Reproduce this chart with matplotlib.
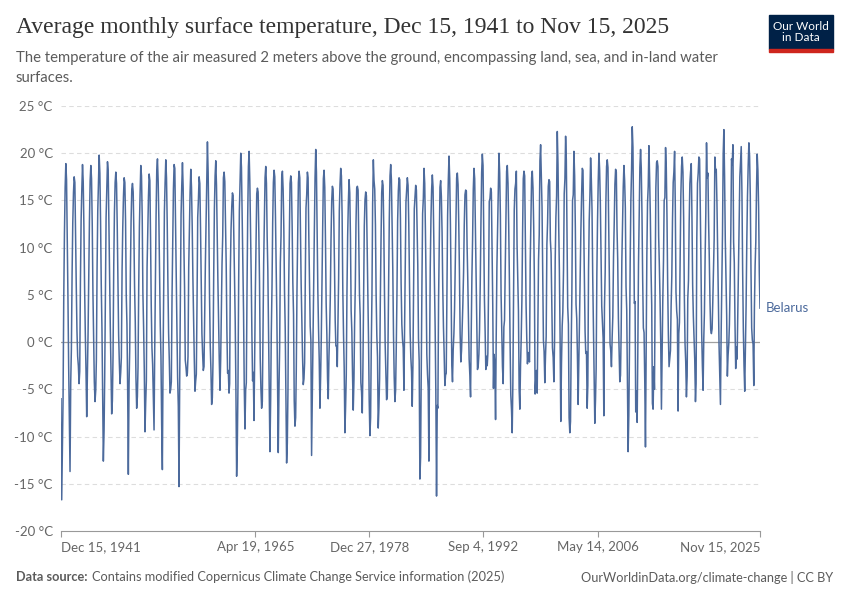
import numpy as np
import pandas as pd
import matplotlib
matplotlib.use("Agg")
import matplotlib.pyplot as plt
from matplotlib.patches import Rectangle

# Monthly average temperature (°C) for Belarus.
# Series starts Dec 1941, one row per calendar year afterwards.
temps_1940s = [
    -6.0,
    -16.7, -11.2, -6.0, 4.8, 11.5, 16.4, 18.9, 17.2, 11.0, 4.9, -2.4, -8.3,   # 1942
    -13.7, -4.2, -0.8, 7.2, 12.6, 15.8, 17.5, 16.9, 11.2, 6.0, 1.2, -1.5,     # 1943
    -2.5, -4.4, -3.1, 6.5, 12.9, 16.2, 18.8, 17.0, 12.1, 5.8, 0.9, -3.0,      # 1944
    -7.9, -3.6, 0.8, 6.9, 12.8, 17.1, 18.7, 17.3, 12.4, 5.3, 0.3, -4.2,       # 1945
    -6.3, -5.1, -1.9, 7.8, 13.9, 16.8, 19.8, 17.9, 12.8, 6.1, 1.4, -5.3,      # 1946
    -12.6, -9.4, -3.7, 5.4, 13.2, 16.4, 19.1, 18.2, 12.6, 6.9, 1.7, -2.8,     # 1947
    -7.6, -6.2, -1.4, 8.1, 13.7, 16.9, 18.0, 16.8, 12.3, 6.4, 0.8, -2.1,      # 1948
    -4.4, -3.2, -1.6, 7.6, 12.1, 15.4, 17.4, 16.9, 12.8, 5.0, 1.9, -4.8,      # 1949
]
temps_1950s = [
    -14.0, -4.5, -0.9, 7.4, 12.8, 16.2, 16.8, 15.9, 11.5, 5.9, 2.1, -3.8,     # 1950
    -7.0, -5.8, -2.7, 5.9, 12.2, 15.8, 18.7, 17.6, 13.3, 5.2, 1.6, -2.9,      # 1951
    -9.5, -6.4, -4.1, 7.9, 11.6, 15.4, 17.8, 17.1, 11.0, 3.9, -0.6, -2.4,     # 1952
    -5.8, -9.3, -1.2, 6.0, 13.4, 18.3, 19.4, 17.0, 12.9, 7.2, 1.8, -1.5,      # 1953
    -8.7, -13.5, -2.6, 6.3, 13.8, 16.9, 19.3, 17.4, 12.7, 6.4, 1.0, -1.8,     # 1954
    -5.4, -5.0, -4.2, 4.9, 10.9, 16.2, 18.8, 18.4, 12.4, 6.3, 1.5, -3.7,      # 1955
    -6.8, -15.3, -4.4, 4.3, 13.5, 16.6, 19.0, 16.3, 10.2, 5.8, -1.9, -2.6,    # 1956
    -3.6, -3.3, -1.5, 7.9, 11.8, 15.9, 18.3, 16.4, 12.3, 6.9, 2.3, -1.7,      # 1957
    -5.2, -4.1, -3.4, 4.4, 13.2, 15.1, 17.5, 16.8, 12.1, 6.4, 0.9, -1.2,      # 1958
    -3.0, -2.6, 2.8, 8.2, 12.3, 16.4, 21.2, 18.0, 12.4, 4.9, -0.3, -2.9,      # 1959
]
temps_1960s = [
    -6.6, -5.9, -2.1, 7.1, 14.1, 17.6, 19.2, 16.6, 11.4, 6.6, 2.4, -1.9,      # 1960
    -5.1, -1.8, 2.7, 8.3, 11.2, 17.4, 18.0, 17.0, 12.3, 8.2, 1.2, -3.3,       # 1961
    -3.0, -5.4, -4.4, 7.6, 11.9, 14.3, 15.8, 15.5, 11.4, 6.8, 2.0, -5.0,      # 1962
    -14.2, -10.8, -4.6, 6.5, 13.9, 17.2, 20.0, 18.5, 13.3, 8.9, 3.1, -4.6,    # 1963
    -9.2, -5.1, -4.3, 5.6, 13.3, 18.6, 20.2, 17.1, 12.0, 7.2, 0.8, -4.1,      # 1964
    -3.2, -8.3, -1.5, 5.3, 10.5, 15.7, 16.3, 15.9, 11.6, 6.4, -1.7, -4.9,     # 1965
    -7.0, -6.3, 0.4, 8.4, 13.0, 17.4, 18.6, 16.8, 11.2, 7.6, 1.2, -4.0,       # 1966
    -11.6, -6.1, 0.9, 5.8, 12.6, 16.9, 18.2, 17.5, 13.2, 8.0, 2.6, -4.4,      # 1967
    -11.7, -5.0, -0.6, 8.4, 11.2, 17.5, 18.1, 16.2, 12.0, 5.5, 1.4, -5.3,     # 1968
    -12.8, -10.7, -5.2, 5.9, 11.0, 16.8, 17.6, 16.9, 12.2, 6.3, 2.9, -6.2,    # 1969
]
temps_1970s = [
    -8.9, -8.0, -3.0, 5.5, 11.3, 16.9, 18.1, 17.4, 11.2, 6.1, 2.3, -1.6,      # 1970
    -4.5, -3.9, -2.2, 6.9, 14.2, 15.6, 18.0, 17.4, 11.3, 6.6, 1.7, 0.2,       # 1971
    -12.0, -5.7, 0.6, 7.2, 11.7, 17.4, 20.4, 18.0, 11.5, 5.5, 1.4, -1.8,      # 1972
    -7.0, -3.6, 0.4, 6.5, 12.0, 17.3, 18.2, 16.4, 10.8, 4.1, 0.8, -3.9,       # 1973
    -6.0, -1.5, 1.1, 4.8, 10.7, 14.9, 16.5, 16.2, 13.0, 8.2, 2.3, -0.4,       # 1974
    -0.4, -2.6, 2.0, 6.7, 13.9, 16.7, 18.4, 17.6, 13.4, 5.6, 0.9, -2.7,       # 1975
    -9.6, -6.8, -3.5, 5.4, 11.3, 14.8, 17.2, 15.8, 11.0, 3.3, 1.1, -3.5,      # 1976
    -7.2, -4.0, 1.8, 5.9, 12.5, 16.3, 16.5, 16.1, 10.1, 5.1, 2.8, -4.3,       # 1977
    -5.3, -7.5, -2.7, 5.2, 12.3, 15.1, 15.9, 15.5, 10.4, 5.7, 0.4, -6.1,      # 1978
    -9.9, -8.0, -0.8, 5.0, 14.6, 19.3, 17.1, 16.2, 12.4, 5.0, 0.7, -1.6,      # 1979
]
temps_1980s = [
    -9.1, -6.9, -3.9, 4.1, 10.4, 15.8, 17.1, 16.6, 12.0, 5.4, -0.3, -3.1,     # 1980
    -6.1, -5.8, -1.2, 6.0, 13.1, 17.6, 18.8, 17.2, 12.4, 7.7, 0.8, -3.6,      # 1981
    -6.3, -5.1, -0.8, 5.0, 12.8, 16.0, 17.4, 17.2, 13.1, 6.2, 1.9, 0.3,       # 1982
    -0.6, -5.1, 1.7, 8.2, 14.8, 16.2, 17.4, 16.6, 12.6, 6.5, 1.0, -1.6,       # 1983
    -3.1, -6.8, -2.5, 5.5, 14.1, 15.4, 16.6, 16.1, 11.7, 8.1, 0.4, -2.0,      # 1984
    -14.5, -12.2, -3.0, 6.2, 13.6, 15.2, 18.4, 16.8, 11.8, 6.1, -1.3, -3.4,   # 1985
    -4.9, -12.6, -1.5, 7.9, 13.0, 16.2, 17.7, 16.4, 11.0, 6.4, 1.6, -5.2,     # 1986
    -16.3, -6.7, -7.0, 4.6, 10.2, 16.4, 17.1, 15.4, 11.6, 5.8, 1.6, -1.2,     # 1987
    -4.6, -3.5, -3.3, 5.2, 13.4, 17.2, 19.7, 17.3, 12.5, 5.8, -2.5, -4.2,     # 1988
    -0.8, 0.9, 3.5, 8.4, 12.9, 17.4, 17.9, 16.7, 12.6, 7.6, 0.9, -2.1,        # 1989
]
temps_1990s = [
    -0.9, 1.6, 4.1, 7.4, 12.4, 15.6, 16.1, 16.0, 10.3, 6.8, 2.3, -1.8,        # 1990
    -3.5, -5.8, 0.8, 6.9, 10.9, 16.2, 18.4, 17.3, 12.1, 7.2, 2.3, -2.9,       # 1991
    -2.6, -1.3, 1.3, 6.2, 12.5, 17.9, 19.9, 18.7, 11.9, 4.6, 1.1, -2.9,       # 1992
    -1.5, -2.5, -1.2, 6.0, 14.9, 15.2, 16.3, 15.9, 10.1, 4.0, -4.9, -1.3,     # 1993
    -2.4, -8.2, 0.3, 7.9, 11.8, 15.4, 20.0, 17.9, 13.4, 5.1, 0.9, -2.6,       # 1994
    -4.4, 1.6, 2.3, 7.4, 13.1, 18.1, 18.7, 16.8, 12.2, 6.7, -0.1, -5.6,       # 1995
    -7.1, -9.6, -4.4, 5.6, 14.0, 16.2, 16.8, 18.1, 10.3, 6.8, 3.3, -5.0,      # 1996
    -7.1, -2.4, 0.3, 4.4, 11.5, 17.3, 18.1, 17.6, 10.7, 4.0, 0.4, -2.3,       # 1997
    -1.1, -1.8, -2.1, 8.4, 12.9, 17.4, 18.1, 16.3, 12.2, 6.5, -5.5, -4.0,     # 1998
    -3.0, -5.4, 1.5, 8.7, 11.4, 19.2, 20.9, 17.6, 14.3, 6.8, 0.2, -1.0,       # 1999
]
temps_2000s = [
    -4.3, -1.4, 0.6, 10.3, 12.6, 16.5, 17.2, 17.0, 10.8, 9.4, 4.1, -0.6,      # 2000
    -1.6, -4.2, -0.3, 8.8, 13.2, 15.5, 22.3, 18.8, 12.3, 7.6, 0.6, -8.4,      # 2001
    -2.3, 1.7, 3.2, 7.7, 15.7, 17.3, 21.8, 19.3, 11.8, 3.7, 1.9, -8.0,        # 2002
    -9.6, -8.4, -0.9, 5.1, 15.0, 15.6, 20.2, 17.6, 12.1, 4.0, 2.5, -1.4,      # 2003
    -6.6, -2.3, 2.3, 7.2, 11.8, 15.5, 18.4, 18.2, 12.4, 7.3, 1.1, -1.2,       # 2004
    -1.0, -7.0, -4.6, 7.6, 12.9, 15.5, 19.5, 17.3, 14.0, 7.1, 1.6, -2.9,      # 2005
    -8.6, -6.1, -2.8, 7.2, 12.9, 17.1, 20.0, 18.2, 14.7, 9.0, 3.8, 2.2,       # 2006
    0.4, -7.8, 3.7, 7.4, 14.7, 18.6, 19.3, 18.5, 12.6, 6.9, -0.2, -0.9,       # 2007
    -2.6, 0.5, 2.7, 9.0, 12.5, 16.7, 18.3, 18.0, 12.0, 8.8, 2.5, -0.9,        # 2008
    -4.2, -3.5, 0.9, 8.6, 12.7, 16.4, 18.7, 17.1, 14.2, 5.9, 3.4, -3.8,       # 2009
]
temps_2010s = [
    -11.6, -7.7, -0.9, 8.4, 14.9, 18.2, 22.8, 20.6, 11.6, 4.1, 4.3, -7.4,     # 2010
    -5.2, -8.5, -1.3, 8.2, 13.6, 18.5, 20.4, 18.4, 13.5, 6.7, 1.5, 1.0,       # 2011
    -4.1, -11.1, -0.8, 9.1, 14.7, 16.5, 20.8, 17.4, 13.4, 7.8, 3.9, -6.5,     # 2012
    -7.1, -2.6, -5.0, 6.6, 16.3, 19.0, 19.2, 18.6, 11.2, 8.2, 4.5, 0.1,       # 2013
    -7.1, -0.7, 4.4, 8.6, 15.0, 15.3, 20.6, 18.5, 13.3, 6.2, 0.8, -2.6,       # 2014
    -1.8, -0.9, 3.8, 7.0, 12.9, 16.9, 18.0, 20.2, 14.3, 5.3, 3.3, 2.4,        # 2015
    -7.3, 0.9, 2.1, 9.0, 15.5, 18.6, 19.6, 18.0, 13.1, 5.0, -0.2, -2.1,       # 2016
    -5.8, -3.6, 4.6, 6.5, 12.6, 16.8, 18.0, 18.9, 13.1, 6.0, 2.7, 0.6,        # 2017
    -1.9, -6.3, -4.4, 11.0, 16.8, 17.9, 19.6, 19.4, 14.2, 8.3, 1.0, -2.5,     # 2018
    -5.1, 0.4, 3.1, 9.1, 13.6, 21.1, 17.4, 17.9, 12.6, 8.9, 4.2, 1.3,         # 2019
]
temps_2020s = [
    0.9, 1.4, 4.2, 7.7, 10.9, 19.6, 18.0, 18.3, 14.6, 9.6, 4.3, -0.3,         # 2020
    -3.6, -6.6, 0.5, 6.0, 11.4, 19.9, 22.5, 17.5, 10.8, 6.9, 2.8, -3.6,       # 2021
    -1.4, -0.2, 1.9, 6.2, 11.6, 19.4, 18.8, 20.9, 10.6, 8.4, 1.9, -2.8,       # 2022
    -0.5, -1.8, 2.8, 7.4, 13.2, 17.5, 19.0, 20.7, 15.8, 7.8, 1.4, -2.5,       # 2023
    -5.2, -0.6, 3.8, 10.6, 15.4, 18.7, 21.1, 19.7, 15.5, 7.8, 1.5, 0.2,       # 2024
    -0.2, -4.6, 3.6, 8.1, 10.6, 16.2, 19.9, 18.2, 14.2, 7.4, 3.6,             # 2025
]

country = "Belarus"
y_ticks = [-20, -15, -10, -5, 0, 5, 10, 15, 20, 25]
x_tick_labels = ["Dec 15, 1941", "Apr 19, 1965", "Dec 27, 1978",
                 "Sep 4, 1992", "May 14, 2006", "Nov 15, 2025"]

temps = np.array(temps_1940s + temps_1950s + temps_1960s + temps_1970s
                 + temps_1980s + temps_1990s + temps_2000s + temps_2010s
                 + temps_2020s)
dates = pd.date_range("1941-12-01", periods=len(temps), freq="MS") + pd.Timedelta(days=14)
x_tick_dates = pd.to_datetime(x_tick_labels, format="%b %d, %Y")

# Colours
line_col = "#4c6a9c"
grey_txt = "#5b5b5b"
tick_txt = "#666666"

fig = plt.figure(figsize=(8.5, 6), dpi=100)
ax = fig.add_axes([61 / 850, 1 - 531 / 600, (760 - 61) / 850, (531 - 106) / 600])

ax.plot(dates, temps, color=line_col, lw=1.1, solid_joinstyle="round", zorder=3)

ax.set_ylim(-20, 25)
ax.set_xlim(dates[0], dates[-1])
ax.set_yticks(y_ticks)
ax.set_yticklabels([f"{t} °C" for t in y_ticks], fontsize=9.5, color=tick_txt, family="Lato")
ax.set_xticks(x_tick_dates)
ax.set_xticklabels(x_tick_labels, fontsize=9.5, color=tick_txt, family="Lato")
# first label hangs right of its tick, last one left of it
xlabels = ax.get_xticklabels()
xlabels[0].set_ha("left")
xlabels[-1].set_ha("right")
ax.tick_params(axis="y", length=0, pad=6)
ax.tick_params(axis="x", length=4, width=0.8, color="#999999", pad=3)

for t in y_ticks:
    if t == 0:
        ax.axhline(0, color="#a0a0a0", lw=0.9, zorder=2)
    elif t != -20:
        ax.axhline(t, color="#dddddd", lw=0.8, ls=(0, (4, 3)), zorder=1)
for s in ["top", "right", "left"]:
    ax.spines[s].set_visible(False)
ax.spines["bottom"].set_color("#999999")
ax.spines["bottom"].set_linewidth(0.8)

# End label
ax.annotate(country, xy=(dates[-1], temps[-1]), xytext=(4, 0), textcoords="offset points",
            va="center", ha="left", fontsize=9.5, color=line_col, family="Lato",
            annotation_clip=False)

# Title and subtitle
fig.text(16 / 850, 1 - 28 / 600, "Average monthly surface temperature, Dec 15, 1941 to Nov 15, 2025",
         fontsize=17, family="Liberation Serif", color="#333333", va="center")
fig.text(16 / 850, 1 - 58 / 600,
         "The temperature of the air measured 2 meters above the ground, encompassing land, sea, and in-land water",
         fontsize=10.7, family="Lato", color=grey_txt, va="center")
fig.text(16 / 850, 1 - 78 / 600, "surfaces.", fontsize=10.7, family="Lato", color=grey_txt, va="center")

# OWID logo
fig.patches.append(Rectangle((769 / 850, 1 - 49 / 600), 64 / 850, 34 / 600,
                             transform=fig.transFigure, color="#002147", zorder=5))
fig.patches.append(Rectangle((769 / 850, 1 - 52 / 600), 64 / 850, 3 / 600,
                             transform=fig.transFigure, color="#ce261e", zorder=5))
fig.text(801 / 850, 1 - 32 / 600, "Our World\nin Data", ha="center", va="center",
         fontsize=8.5, color="white", family="Lato", linespacing=1.0, zorder=6)

# Footer
fig.text(16 / 850, 1 - 577 / 600, "Data source:", fontsize=9.2, family="Lato",
         fontweight="bold", color=grey_txt, va="center")
fig.text(92 / 850, 1 - 577 / 600,
         "Contains modified Copernicus Climate Change Service information (2025)",
         fontsize=9.2, family="Lato", color=grey_txt, va="center")
fig.text(833 / 850, 1 - 577 / 600, "OurWorldinData.org/climate-change | CC BY",
         fontsize=9.2, family="Lato", color=grey_txt, va="center", ha="right")

fig.savefig("out.png", dpi=100)
